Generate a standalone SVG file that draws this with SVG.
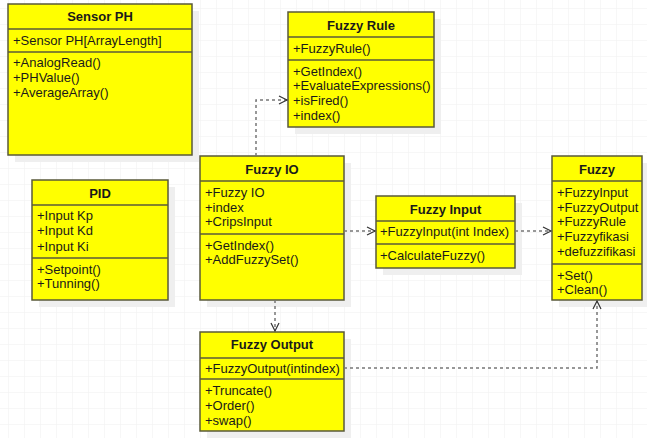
<svg xmlns="http://www.w3.org/2000/svg" width="647" height="438" viewBox="0 0 647 438">
<defs>
<pattern id="grid" x="8" y="8" width="16" height="16" patternUnits="userSpaceOnUse">
<path d="M0,0 H16 M0,0 V16" fill="none" stroke="#efefef" stroke-width="1"/>
</pattern>
<marker id="open" markerUnits="userSpaceOnUse" markerWidth="12" markerHeight="12" viewBox="-10 -6 12 12" refX="0" refY="0" orient="auto">
<path d="M-8,-4 L0,0 L-8,4" fill="none" stroke="#333" stroke-width="1.2"/>
</marker>
</defs>
<style>
.shadow{fill:#efefef}
.box{fill:#ffff00;stroke:#5a5a3a;stroke-width:1.5}
.div{stroke:#5a5a3a;stroke-width:1.5}
.title{font-family:"Liberation Sans",Arial,sans-serif;font-size:13px;font-weight:bold;fill:#1a1a1a;text-anchor:middle}
.t{font-family:"Liberation Sans",Arial,sans-serif;font-size:13px;fill:#1a1a1a}
.edge{fill:none;stroke:#777;stroke-width:1.5;stroke-dasharray:3 3}
</style>
<rect width="647" height="438" fill="#ffffff"/>
<rect width="647" height="438" fill="url(#grid)"/>

<g id="sensor-ph">
<rect class="shadow" x="15" y="11" width="184" height="151"/>
<rect class="box" x="8" y="4" width="184" height="151"/>
<line class="div" x1="8" y1="29" x2="192" y2="29"/>
<line class="div" x1="8" y1="52" x2="192" y2="52"/>
<text class="title" x="100" y="20.5">Sensor PH</text>
<text class="t" x="13" y="44.5">+Sensor PH[ArrayLength]</text>
<text class="t" x="13" y="66.5">+AnalogRead()</text>
<text class="t" x="13" y="81.5">+PHValue()</text>
<text class="t" x="13" y="96.5">+AverageArray()</text>
</g>

<g id="fuzzy-rule">
<rect class="shadow" x="295" y="19" width="146" height="115"/>
<rect class="box" x="288" y="12" width="146" height="115"/>
<line class="div" x1="288" y1="37" x2="434" y2="37"/>
<line class="div" x1="288" y1="60" x2="434" y2="60"/>
<text class="title" x="361" y="29.5">Fuzzy Rule</text>
<text class="t" x="293" y="52.5">+FuzzyRule()</text>
<text class="t" x="293" y="75.5">+GetIndex()</text>
<text class="t" x="293" y="90">+EvaluateExpressions()</text>
<text class="t" x="293" y="104.5">+isFired()</text>
<text class="t" x="293" y="119.5">+index()</text>
</g>

<g id="pid">
<rect class="shadow" x="39" y="187" width="136" height="120"/>
<rect class="box" x="32" y="180" width="136" height="120"/>
<line class="div" x1="32" y1="205" x2="168" y2="205"/>
<line class="div" x1="32" y1="258" x2="168" y2="258"/>
<text class="title" x="100" y="197.5">PID</text>
<text class="t" x="37" y="219.5">+Input Kp</text>
<text class="t" x="37" y="235">+Input Kd</text>
<text class="t" x="37" y="250.5">+Input Ki</text>
<text class="t" x="37" y="273.5">+Setpoint()</text>
<text class="t" x="37" y="287.5">+Tunning()</text>
</g>

<g id="fuzzy-io">
<rect class="shadow" x="207" y="163" width="144" height="144"/>
<rect class="box" x="200" y="156" width="144" height="144"/>
<line class="div" x1="200" y1="181" x2="344" y2="181"/>
<line class="div" x1="200" y1="234" x2="344" y2="234"/>
<text class="title" x="272" y="173.5">Fuzzy IO</text>
<text class="t" x="205" y="196.5">+Fuzzy IO</text>
<text class="t" x="205" y="211.5">+index</text>
<text class="t" x="205" y="226">+CripsInput</text>
<text class="t" x="205" y="249.5">+GetIndex()</text>
<text class="t" x="205" y="263.5">+AddFuzzySet()</text>
</g>

<g id="fuzzy-input">
<rect class="shadow" x="383" y="203" width="139" height="72"/>
<rect class="box" x="376" y="196" width="139" height="72"/>
<line class="div" x1="376" y1="221" x2="515" y2="221"/>
<line class="div" x1="376" y1="244" x2="515" y2="244"/>
<text class="title" x="445.5" y="213.5">Fuzzy Input</text>
<text class="t" x="380" y="235.5">+FuzzyInput(int Index)</text>
<text class="t" x="380" y="259.5">+CalculateFuzzy()</text>
</g>

<g id="fuzzy">
<rect class="shadow" x="559" y="163" width="90" height="144"/>
<rect class="box" x="552" y="156" width="90" height="144"/>
<line class="div" x1="552" y1="181" x2="642" y2="181"/>
<line class="div" x1="552" y1="264" x2="642" y2="264"/>
<text class="title" x="597" y="173.5">Fuzzy</text>
<text class="t" x="557" y="196.5">+FuzzyInput</text>
<text class="t" x="557" y="211.5">+FuzzyOutput</text>
<text class="t" x="557" y="226">+FuzzyRule</text>
<text class="t" x="557" y="240.5">+Fuzzyfikasi</text>
<text class="t" x="557" y="255.5">+defuzzifikasi</text>
<text class="t" x="557" y="279.5">+Set()</text>
<text class="t" x="557" y="293.5">+Clean()</text>
</g>

<g id="fuzzy-output">
<rect class="shadow" x="207" y="339" width="144" height="99"/>
<rect class="box" x="200" y="332" width="144" height="99"/>
<line class="div" x1="200" y1="358" x2="344" y2="358"/>
<line class="div" x1="200" y1="379" x2="344" y2="379"/>
<text class="title" x="272" y="348.5">Fuzzy Output</text>
<text class="t" x="205" y="372.5">+FuzzyOutput(intindex)</text>
<text class="t" x="205" y="394.5">+Truncate()</text>
<text class="t" x="205" y="409.5">+Order()</text>
<text class="t" x="205" y="424.5">+swap()</text>
</g>

<g id="connectors">
<path class="edge" d="M256,156 V100 H287" marker-end="url(#open)"/>
<path class="edge" d="M344,231 H375" marker-end="url(#open)"/>
<path class="edge" d="M515,231 H551" marker-end="url(#open)"/>
<path class="edge" d="M275,300 V331" marker-end="url(#open)"/>
<path class="edge" d="M344,368 H597 V301" marker-end="url(#open)"/>
</g>
</svg>
